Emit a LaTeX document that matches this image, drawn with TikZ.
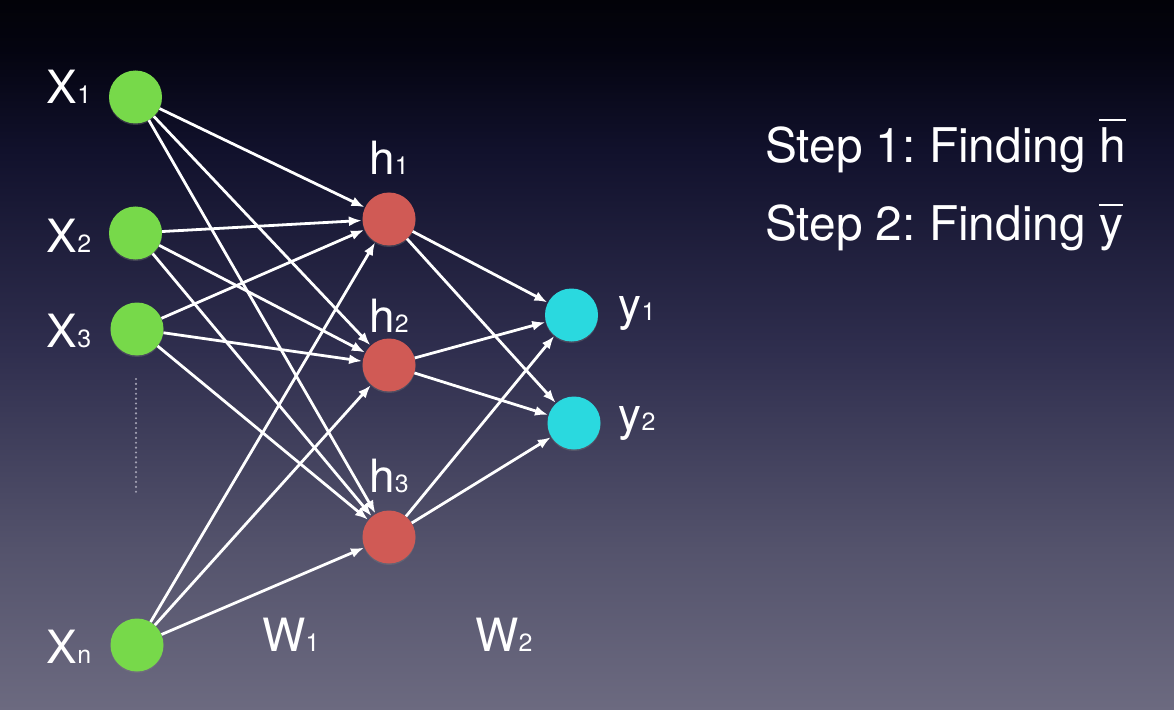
\documentclass[tikz,border=0pt]{standalone}
\usepackage{fontspec}
\setmainfont{TeX Gyre Heros}
\usetikzlibrary{arrows.meta,shadows}
\frenchspacing
\definecolor{ingreen}{HTML}{77D94A}
\definecolor{hidred}{HTML}{D05A55}
\definecolor{outcyan}{HTML}{2AD9DF}
\definecolor{dotgray}{HTML}{A4A2B4}
\pgfdeclareverticalshading{slidebg}{100bp}{%
  color(0bp)=(rgb,255:red,108;green,106;blue,128);
  color(25bp)=(rgb,255:red,108;green,106;blue,128);
  color(36.3bp)=(rgb,255:red,84;green,83;blue,108);
  color(50.4bp)=(rgb,255:red,47;green,46;blue,78);
  color(64.4bp)=(rgb,255:red,17;green,17;blue,44);
  color(71.5bp)=(rgb,255:red,4;green,4;blue,16);
  color(75bp)=(rgb,255:red,2;green,2;blue,8);
  color(100bp)=(rgb,255:red,2;green,2;blue,8)}
\newcommand{\nnlab}[2]{{\fontsize{46}{46}\selectfont #1\fontsize{25}{25}\selectfont #2}}
\newcommand{\barover}[2]{\leavevmode\setbox0\hbox{#2}\rlap{\raisebox{#1}{\rule{\wd0}{2bp}}}\box0}
\tikzset{
  neuron/.style={circle, minimum size=53bp, inner sep=0pt, draw=none,
     drop shadow={opacity=0.35, shadow xshift=0bp, shadow yshift=-1.5bp}},
  innode/.style={neuron, fill=ingreen},
  hidnode/.style={neuron, fill=hidred},
  outnode/.style={neuron, fill=outcyan},
  lab/.style={text=white, inner sep=0pt, anchor=base},
  conn/.style={draw=white, line width=2.8bp, -{Latex[length=13bp,width=10bp]}, shorten >=0.5bp},
  steptext/.style={text=white, inner sep=0pt, anchor=base west, font=\fontsize{48}{48}\selectfont}
}
\begin{document}
\begin{tikzpicture}[x=1bp,y=-1bp]
\shade[shading=slidebg] (0,0) rectangle (1174,710);
\useasboundingbox (0,0) rectangle (1174,710);
% nodes
\node[innode] (x1) at (135.5,97) {};
\node[innode] (x2) at (135.5,233) {};
\node[innode] (x3) at (137,329) {};
\node[innode] (xn) at (137,645) {};
\node[hidnode] (h1) at (389,219) {};
\node[hidnode] (h2) at (389,365) {};
\node[hidnode] (h3) at (389,537) {};
\node[outnode] (y1) at (571.5,315) {};
\node[outnode] (y2) at (574,423) {};
% labels
\node[lab] (lx1) at (69,104) {\nnlab{X}{1}};
\node[lab] (lx2) at (69,252) {\nnlab{X}{2}};
\node[lab] (lx3) at (69,347) {\nnlab{X}{3}};
\node[lab] (lxn) at (69,663) {\nnlab{X}{n}};
\node[lab] (lh1) at (389,175) {\nnlab{h}{1}};
\node[lab] (lh2) at (389,332) {\nnlab{h}{2}};
\node[lab] (lh3) at (389,492) {\nnlab{h}{3}};
\node[lab] (ly1) at (637,320) {\nnlab{y}{1}};
\node[lab] (ly2) at (637,430) {\nnlab{y}{2}};
\node[lab] (lw1) at (291,651) {\nnlab{W}{1}};
\node[lab] (lw2) at (504,651) {\nnlab{W}{2}};
\node[steptext] (s1) at (765,163) {Step 1: Finding \barover{0.88em}{h}};
\node[steptext] (s2) at (765,240) {Step 2: Finding \barover{0.71em}{y}};
% dots
\coordinate (dtop) at (136,379);
\coordinate (dbot) at (136,496);
\draw[draw=dotgray, line width=2.4bp, line cap=round, dash pattern=on 0bp off 4.9bp] (dtop) -- (dbot);
% connections
\foreach \s in {x1,x2,x3,xn}{
  \foreach \t in {h1,h2,h3}{
    \draw[conn] (\s) -- (\t);
  }
}
\foreach \s in {h1,h2,h3}{
  \foreach \t in {y1,y2}{
    \draw[conn] (\s) -- (\t);
  }
}
\end{tikzpicture}
\end{document}
